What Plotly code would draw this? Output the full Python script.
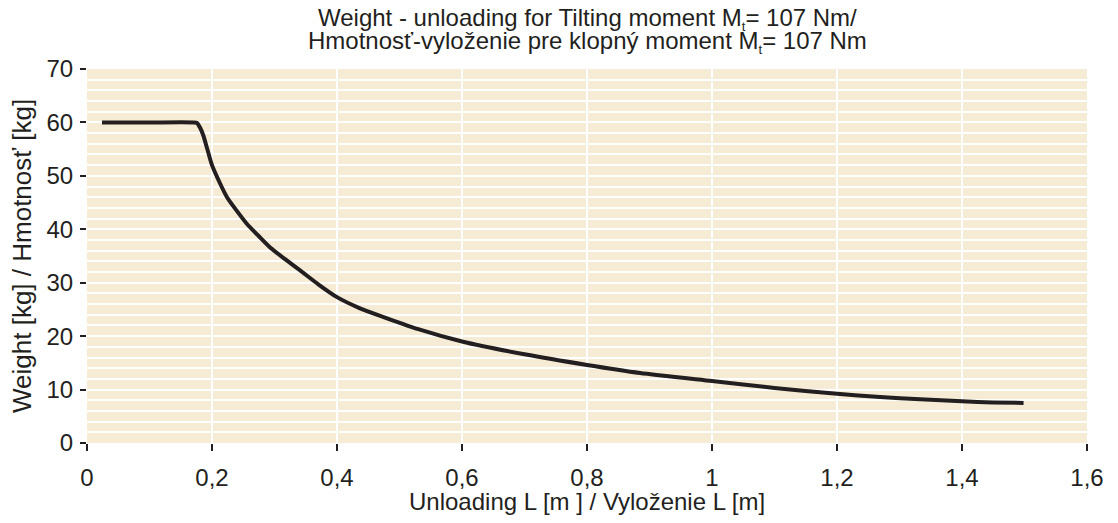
import plotly.graph_objects as go

# Data
unloading_m = [0.024, 0.10, 0.170, 0.176, 0.181, 0.186, 0.193, 0.200, 0.212, 0.224, 0.240,
               0.256, 0.275, 0.293, 0.317, 0.341, 0.370, 0.400, 0.435, 0.469, 0.530,
               0.600, 0.700, 0.800, 0.885, 1.000, 1.100, 1.200, 1.269, 1.333, 1.400,
               1.450, 1.4985]
weight_kg = [60.0, 60.0, 60.0, 59.9, 59.0, 57.6, 54.8, 52.0, 48.8, 46.0, 43.4,
             41.0, 38.7, 36.6, 34.4, 32.3, 29.7, 27.3, 25.3, 23.8, 21.3,
             19.0, 16.6, 14.6, 13.1, 11.6, 10.3, 9.2, 8.6, 8.2, 7.8,
             7.6, 7.5]

x_ticks = [0, 0.2, 0.4, 0.6, 0.8, 1.0, 1.2, 1.4, 1.6]
x_tick_text = ["0", "0,2", "0,4", "0,6", "0,8", "1", "1,2", "1,4", "1,6"]
y_ticks = [0, 10, 20, 30, 40, 50, 60, 70]

SUB_T = "<sub><span style='font-size:13px'>t</span></sub>"
title_line1 = "Weight - unloading for Tilting moment M" + SUB_T + "= 107 Nm/"
title_line2 = "Hmotnosť-vyloženie pre klopný moment M" + SUB_T + "= 107 Nm"
x_title = "Unloading L [m ] / Vyloženie L [m]"
y_title = "Weight [kg] / Hmotnosť [kg]"

TEXT = "#231f20"
FONT = "Liberation Sans, Arial, sans-serif"
FS = 24

fig = go.Figure()
fig.add_trace(go.Scatter(
    x=unloading_m, y=weight_kg, mode="lines",
    line=dict(color="#231f20", width=4, shape="spline", smoothing=0.6),
    hoverinfo="x+y", showlegend=False,
))

annots = [
    dict(text=title_line1, x=0.5, y=1, xref="paper", yref="paper",
         xanchor="center", yanchor="middle", yshift=50, showarrow=False,
         font=dict(family=FONT, size=FS, color=TEXT)),
    dict(text=title_line2, x=0.5, y=1, xref="paper", yref="paper",
         xanchor="center", yanchor="middle", yshift=27, showarrow=False,
         font=dict(family=FONT, size=FS, color=TEXT)),
    dict(text=x_title, x=0.5, y=0, xref="paper", yref="paper",
         xanchor="center", yanchor="middle", yshift=-58, showarrow=False,
         font=dict(family=FONT, size=FS, color=TEXT)),
    dict(text=y_title, x=0, y=0.5, xref="paper", yref="paper",
         xanchor="center", yanchor="middle", xshift=-65, textangle=-90,
         showarrow=False, font=dict(family=FONT, size=26, color=TEXT)),
]

# page body adds an 8px offset; margins compensate so the plot sits at
# x 87..1087, y 69..443 in the screenshot
fig.update_layout(
    width=1118, height=523,
    margin=dict(l=79, r=39, t=61, b=88, autoexpand=False),
    paper_bgcolor="white",
    plot_bgcolor="#f6ecd6",
    separators=",.",
    font=dict(family=FONT, size=FS, color=TEXT),
    annotations=annots,
    xaxis=dict(
        range=[0, 1.6], tickvals=x_ticks, ticktext=x_tick_text,
        showgrid=True, gridcolor="white", gridwidth=1.5,
        zeroline=False, showline=False, automargin=False,
        ticks="outside", ticklen=7, tickwidth=1.5, tickcolor=TEXT,
        ticklabelstandoff=6,
        tickfont=dict(family=FONT, size=FS, color=TEXT),
        fixedrange=True,
    ),
    yaxis=dict(
        range=[0, 70], tickvals=y_ticks,
        showgrid=False,
        zeroline=False, showline=False, automargin=False,
        ticks="outside", ticklen=6, tickwidth=1.5, tickcolor=TEXT,
        ticklabelstandoff=2,
        tickfont=dict(family=FONT, size=FS, color=TEXT),
        minor=dict(dtick=2, showgrid=True, gridcolor="white", gridwidth=1.5, ticks=""),
        fixedrange=True,
    ),
)

fig.write_html("out.html")
